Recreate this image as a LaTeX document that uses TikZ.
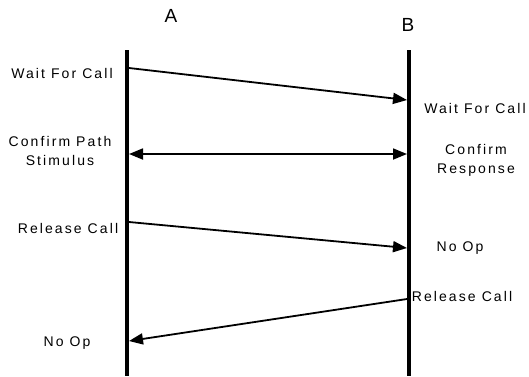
\documentclass[tikz,border=0pt]{standalone}
\usepackage{fontspec}
\setmainfont{Liberation Sans}[LetterSpace=15]
\usetikzlibrary{arrows.meta}

\begin{document}
\begin{tikzpicture}[x=1pt,y=-1pt,
	lbl/.style={font=\fontsize{14}{19}\selectfont, align=center, inner sep=0pt, text height=10pt, text depth=0pt},
	party/.style={font=\fontsize{19}{19}\selectfont, inner sep=0pt},
	life/.style={line width=3.6pt},
	msg/.style={line width=1.8pt, -{Triangle[length=14pt,width=11pt]}}]
			%%%%% START %%%%%
			\useasboundingbox (0,0) rectangle (529,376);
			
			\node[party] (nameA) at (171,16) {A};
			\node[party] (nameB) at (408,25) {B};
			
			\coordinate (topA) at (127,50);
			\coordinate (botA) at (127,376);
			\coordinate (topB) at (409,50);
			\coordinate (botB) at (409,376);
			\draw[life] (topA) -- (botA);
			\draw[life] (topB) -- (botB);
			
			\coordinate (waitA) at (129,68);
			\coordinate (waitB) at (407,100);
			\coordinate (confA) at (129,154);
			\coordinate (confB) at (407,154);
			\coordinate (relA) at (129,222);
			\coordinate (relB) at (407,248);
			\coordinate (backB) at (407,299);
			\coordinate (backA) at (129,341);
			
			\draw[msg] (waitA) -- (waitB);
			\draw[msg, {Triangle[length=14pt,width=11pt]}-{Triangle[length=14pt,width=11pt]}] (confA) -- (confB);
			\draw[msg] (relA) -- (relB);
			\draw[msg] (backB) -- (backA);
			
			\node[lbl] (lWaitA) at (62,73) {Wait For Call};
			\node[lbl] (lWaitB) at (475,108) {Wait For Call};
			\node[lbl] (lConfA) at (60,160) {Confirm Path\\Stimulus};
			\node[lbl] (lConfB) at (476,168) {Confirm\\Response};
			\node[lbl] (lRelA) at (68,228) {Release Call};
			\node[lbl] (lNopB) at (460,246) {No Op};
			\node[lbl] (lRelB) at (462,296) {Release Call};
			\node[lbl] (lNopA) at (67,341) {No Op};
			%%%%% END %%%%%
\end{tikzpicture}
\end{document}
